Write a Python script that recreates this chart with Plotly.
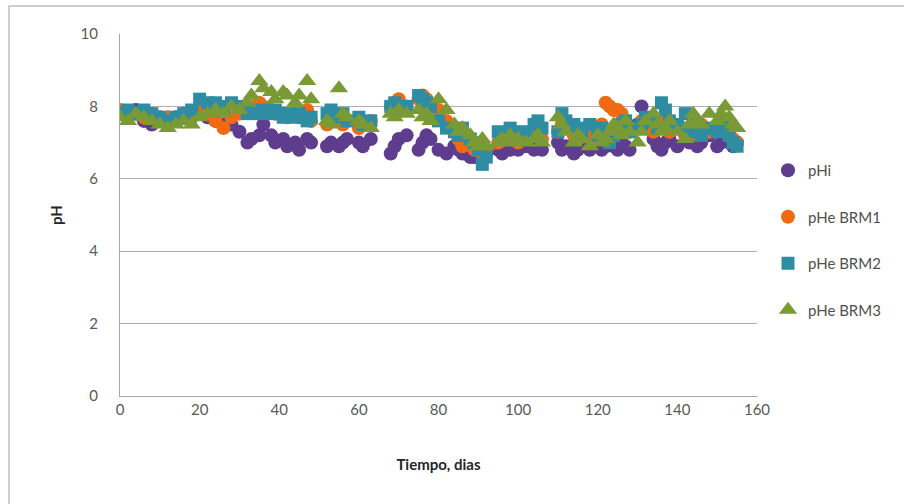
import plotly.graph_objects as go

days = [0, 2, 4, 6, 8, 10, 12, 14, 16, 18,
        20, 22, 24, 26, 28, 30, 32, 33, 35, 36,
        38, 39, 41, 42, 44, 45, 47, 48, 52, 53,
        55, 56, 57, 60, 61, 63, 68, 69, 70, 72,
        75, 76, 77, 78, 80, 82, 84, 85, 86, 88,
        89, 90, 91, 92, 95, 96, 98, 99, 100, 102,
        104, 105, 106, 110, 111, 112, 114, 115, 116, 118,
        120, 121, 122, 123, 124, 125, 126, 127, 128, 130,
        131, 132, 134, 135, 136, 137, 138, 140, 142, 143,
        144, 145, 146, 148, 150, 151, 152, 153, 154, 155]

phi = [7.8, 7.7, 7.9, 7.6, 7.5, 7.7, 7.6, 7.7, 7.8, 7.7,
       7.8, 7.7, 7.6, 7.5, 7.5, 7.3, 7.0, 7.1, 7.2, 7.5,
       7.2, 7.0, 7.1, 6.9, 7.0, 6.8, 7.1, 7.0, 6.9, 7.0,
       6.9, 7.0, 7.1, 7.0, 6.9, 7.1, 6.7, 6.9, 7.1, 7.2,
       6.8, 7.0, 7.2, 7.1, 6.8, 6.7, 6.9, 6.8, 6.7, 6.6,
       6.6, 6.7, 6.6, 6.7, 6.8, 6.7, 6.8, 6.9, 6.8, 6.9,
       6.8, 6.9, 6.8, 7.0, 6.8, 6.9, 6.7, 6.8, 6.9, 6.8,
       6.9, 6.8, 6.9, 7.0, 6.9, 6.8, 7.0, 6.9, 6.8, 7.5,
       8.0, 7.6, 7.1, 6.9, 6.8, 7.0, 7.1, 6.9, 7.2, 7.0,
       7.1, 6.9, 7.0, 7.2, 6.9, 7.0, 7.1, 7.0, 6.9, 7.0]

phe_brm1 = [7.9, 7.8, 7.8, 7.7, 7.8, 7.6, 7.7, 7.6, 7.7, 7.8,
            7.9, 7.8, 7.6, 7.4, 7.7, 7.8, 7.9, 8.0, 8.1, 8.0,
            7.9, 7.8, 7.8, 7.7, 7.8, 7.7, 7.9, 7.6, 7.5, 7.7,
            7.6, 7.5, 7.6, 7.4, 7.5, 7.6, 8.0, 8.1, 8.2, 8.0,
            8.2, 8.3, 8.2, 8.0, 7.9, 7.6, 7.3, 7.1, 6.9, 7.0,
            6.8, 6.9, 6.7, 6.8, 7.0, 7.1, 7.2, 7.1, 7.0, 7.2,
            7.3, 7.2, 7.1, 7.3, 7.5, 7.4, 7.2, 7.1, 7.3, 7.2,
            7.1, 7.5, 8.1, 8.0, 7.9, 7.9, 7.8, 7.6, 7.3, 7.4,
            7.6, 7.5, 7.3, 7.4, 7.6, 7.5, 7.3, 7.4, 7.2, 7.3,
            7.4, 7.2, 7.5, 7.3, 7.4, 7.6, 7.3, 7.2, 7.1, 7.0]

phe_brm2 = [7.8, 7.9, 7.8, 7.9, 7.8, 7.7, 7.6, 7.7, 7.8, 7.9,
            8.2, 8.1, 8.1, 8.0, 8.1, 8.0, 7.8, 7.9, 7.8, 7.9,
            7.8, 7.9, 7.7, 7.8, 7.7, 7.8, 7.6, 7.7, 7.8, 7.9,
            7.7, 7.8, 7.6, 7.7, 7.5, 7.6, 8.0, 8.1, 7.9, 8.0,
            8.3, 8.2, 8.1, 8.0, 7.6, 7.4, 7.3, 7.2, 7.4, 7.1,
            7.0, 6.8, 6.4, 6.6, 7.3, 7.2, 7.4, 7.3, 7.2, 7.3,
            7.5, 7.6, 7.4, 7.3, 7.8, 7.6, 7.5, 7.4, 7.3, 7.5,
            7.2, 7.4, 7.3, 7.0, 7.2, 7.4, 7.5, 7.6, 7.3, 7.4,
            7.5, 7.7, 7.6, 7.4, 8.1, 7.9, 7.6, 7.5, 7.8, 7.4,
            7.3, 7.5, 7.2, 7.4, 7.3, 7.5, 7.6, 7.2, 7.0, 6.9]

phe_brm3 = [7.7, 7.6, 7.8, 7.7, 7.6, 7.5, 7.4, 7.5, 7.6, 7.5,
            7.7, 7.8, 7.9, 7.8, 8.0, 7.9, 8.1, 8.3, 8.7, 8.5,
            8.4, 8.2, 8.4, 8.3, 8.1, 8.3, 8.7, 8.2, 7.6, 7.5,
            8.5, 7.8, 7.7, 7.6, 7.5, 7.4, 7.8, 7.7, 7.9, 7.8,
            7.9, 7.7, 7.8, 7.6, 8.2, 7.9, 7.5, 7.3, 7.4, 7.2,
            7.0, 6.9, 7.1, 6.9, 7.0, 7.1, 7.2, 7.0, 7.1, 7.0,
            7.1, 7.2, 7.0, 7.7, 7.5, 7.3, 7.0, 7.2, 7.1, 6.9,
            7.2, 7.0, 7.1, 7.3, 7.5, 7.4, 7.2, 7.6, 7.3, 7.0,
            7.3, 7.6, 7.8, 7.5, 7.3, 7.4, 7.6, 7.3, 7.1, 7.5,
            7.8, 7.6, 7.5, 7.8, 7.6, 7.8, 8.0, 7.7, 7.5, 7.4]

series_names = ["pHi", "pHe BRM1", "pHe BRM2", "pHe BRM3"]
series_values = [phi, phe_brm1, phe_brm2, phe_brm3]
colors = ["#5E3D8E", "#F06A12", "#2E8CA3", "#7A9A36"]
symbols = ["circle", "circle", "square", "triangle-up"]
sizes = [14, 14, 13, 16]

fig = go.Figure()
for i, (name, vals) in enumerate(zip(series_names, series_values)):
    fig.add_trace(go.Scatter(
        x=days, y=vals, mode="markers", name=name,
        legendgroup=name,
        marker=dict(color=colors[i], symbol=symbols[i], size=sizes[i], line=dict(width=0)),
    ))

W, H = 904, 504
L, R, T, B = 120, 147, 34, 108
pw, ph = W - L - R, H - T - B

def px_x(p):
    return (p - L) / pw

def px_y(p):
    return (H - B - p) / ph

fig.add_shape(type="rect", xref="paper", yref="paper",
              x0=px_x(9), x1=px_x(912), y0=px_y(6), y1=px_y(512),
              line=dict(color="#BFBFBF", width=1.5), layer="below")

fig.update_layout(
    width=W, height=H,
    margin=dict(l=L, r=R, t=T, b=B, pad=0, autoexpand=False),
    paper_bgcolor="white", plot_bgcolor="white",
    font=dict(family="Lato, Open Sans, sans-serif", color="#595959", size=15),
    showlegend=True,
    legend=dict(x=px_x(768), y=px_y(154), xanchor="left", yanchor="top",
                font=dict(size=15, color="#505050"),
                traceorder="grouped", tracegroupgap=24, itemwidth=30,
                bgcolor="rgba(0,0,0,0)"),
    xaxis=dict(range=[0, 160], dtick=20, tick0=0, showgrid=False, zeroline=False,
               automargin=False,
               showline=True, linecolor="#A6A6A6", linewidth=1,
               ticks="", ticklen=0,
               tickfont=dict(size=15, color="#595959"),
               title=dict(text="<b>Tiempo, dias</b>", standoff=42,
                          font=dict(size=15, color="#262626"))),
    yaxis=dict(range=[0, 10], dtick=2, tick0=0, showgrid=True, gridcolor="#ADADAD",
               gridwidth=1, zeroline=False, automargin=False,
               showline=True, linecolor="#A6A6A6", linewidth=1,
               ticks="", ticklabelstandoff=18,
               tickfont=dict(size=15, color="#595959"),
               title=dict(text="<b>pH</b>", standoff=14,
                          font=dict(size=15, color="#262626"))),
)

fig.write_html("out.html", config={"displayModeBar": False},
               post_script="document.body.style.margin='0px';")
